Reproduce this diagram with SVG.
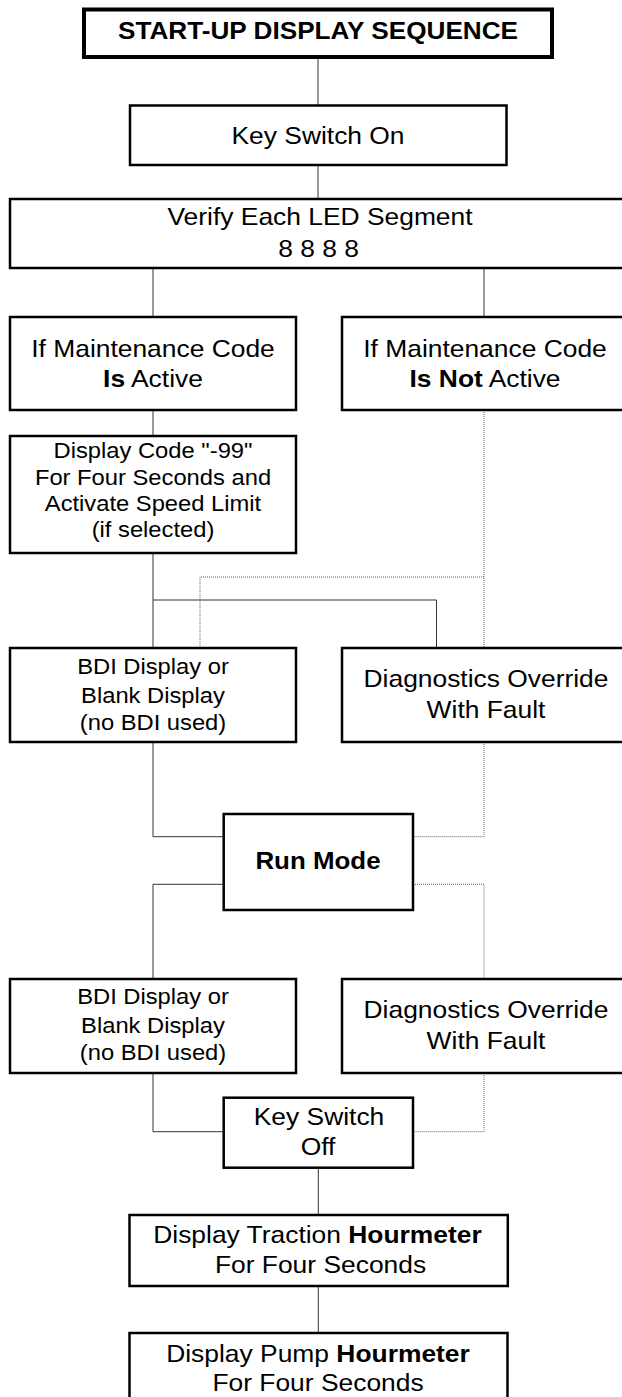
<svg xmlns="http://www.w3.org/2000/svg" width="622" height="1397" viewBox="0 0 622 1397">
<style>
  .box { fill: #fff; stroke: #000; stroke-width: 2.5; }
  .title { fill: #fff; stroke: #000; stroke-width: 4; }
  .t { font-family: "Liberation Sans", Arial, sans-serif; font-size: 24px; fill: #000; text-anchor: middle; }
  .s { font-size: 22px; }
  .b { font-weight: bold; }
  .solid { fill: none; stroke: #333; stroke-width: 1; }
  .dot { fill: none; stroke: #666; stroke-width: 1; stroke-dasharray: 1 1; }
</style>
<rect width="622" height="1397" fill="#fff"/>
<g id="connectors">
  <line class="solid" x1="318" y1="57.5" x2="318" y2="105.5"/>
  <line class="solid" x1="318" y1="165" x2="318" y2="199"/>
  <line class="solid" x1="153" y1="268" x2="153" y2="317"/>
  <line class="solid" x1="484" y1="268" x2="484" y2="317"/>
  <line class="solid" x1="153" y1="410" x2="153" y2="436"/>
  <polyline class="solid" points="153,553 153,648"/>
  <polyline class="solid" points="153,600 436.5,600 436.5,648"/>
  <polyline class="dot" points="484,410 484,648"/>
  <polyline class="dot" points="484,577 200,577 200,648"/>
  <polyline class="solid" points="153,742 153,836.7 223.7,836.7"/>
  <polyline class="dot" points="484,742 484,836.7 413,836.7"/>
  <polyline class="solid" points="223.7,884.3 153,884.3 153,979"/>
  <polyline class="dot" points="413,884.3 484,884.3 484,979"/>
  <polyline class="solid" points="153,1073 153,1131.7 223.7,1131.7"/>
  <polyline class="dot" points="484,1073 484,1131.7 413,1131.7"/>
  <line class="solid" x1="318.3" y1="1167.7" x2="318.3" y2="1215"/>
  <line class="solid" x1="318.3" y1="1286" x2="318.3" y2="1333"/>
</g>
<g id="title">
  <rect class="title" x="84" y="9.5" width="468" height="47.5"/>
  <text class="t b" transform="translate(318,39.3) scale(1.09,1)">START-UP DISPLAY SEQUENCE</text>
</g>
<g id="key-on">
  <rect class="box" x="130" y="105.5" width="376.5" height="59.5"/>
  <text class="t" transform="translate(318,143.5) scale(1.1,1)">Key Switch On</text>
</g>
<g id="verify">
  <rect class="box" x="10" y="199" width="620" height="69"/>
  <text class="t" transform="translate(320,225) scale(1.1,1)">Verify Each LED Segment</text>
  <text class="t" transform="translate(318.5,257) scale(1.1,1)">8 8 8 8</text>
</g>
<g id="maint-active">
  <rect class="box" x="10" y="317" width="286" height="93"/>
  <text class="t" transform="translate(153,357) scale(1.1,1)">If Maintenance Code</text>
  <text class="t" transform="translate(153,387) scale(1.1,1)"><tspan class="b">Is</tspan> Active</text>
</g>
<g id="maint-not-active">
  <rect class="box" x="342" y="317" width="288" height="93"/>
  <text class="t" transform="translate(485,357) scale(1.1,1)">If Maintenance Code</text>
  <text class="t" transform="translate(485,387) scale(1.1,1)"><tspan class="b">Is Not</tspan> Active</text>
</g>
<g id="display-code">
  <rect class="box" x="10" y="436" width="286" height="117"/>
  <text class="t s" transform="translate(153,458) scale(1.08,1)">Display Code "-99"</text>
  <text class="t s" transform="translate(153,484.5) scale(1.08,1)">For Four Seconds and</text>
  <text class="t s" transform="translate(153,511) scale(1.08,1)">Activate Speed Limit</text>
  <text class="t s" transform="translate(153,537) scale(1.08,1)">(if selected)</text>
</g>
<g id="bdi-1">
  <rect class="box" x="10" y="648" width="286" height="94"/>
  <text class="t s" transform="translate(153,674) scale(1.08,1)">BDI Display or</text>
  <text class="t s" transform="translate(153,703) scale(1.08,1)">Blank Display</text>
  <text class="t s" transform="translate(153,730) scale(1.08,1)">(no BDI used)</text>
</g>
<g id="diag-1">
  <rect class="box" x="342" y="648" width="288" height="94"/>
  <text class="t" transform="translate(486,687) scale(1.1,1)">Diagnostics Override</text>
  <text class="t" transform="translate(486,718) scale(1.1,1)">With Fault</text>
</g>
<g id="run-mode">
  <rect class="box" x="223.7" y="814" width="189.3" height="96"/>
  <text class="t b" transform="translate(318,869.3) scale(1.08,1)">Run Mode</text>
</g>
<g id="bdi-2">
  <rect class="box" x="10" y="979" width="286" height="94"/>
  <text class="t s" transform="translate(153,1004) scale(1.08,1)">BDI Display or</text>
  <text class="t s" transform="translate(153,1032.7) scale(1.08,1)">Blank Display</text>
  <text class="t s" transform="translate(153,1060) scale(1.08,1)">(no BDI used)</text>
</g>
<g id="diag-2">
  <rect class="box" x="342" y="979" width="288" height="94"/>
  <text class="t" transform="translate(486,1018) scale(1.1,1)">Diagnostics Override</text>
  <text class="t" transform="translate(486,1049) scale(1.1,1)">With Fault</text>
</g>
<g id="key-off">
  <rect class="box" x="223.7" y="1097.7" width="189.3" height="70"/>
  <text class="t" transform="translate(319,1125) scale(1.1,1)">Key Switch</text>
  <text class="t" transform="translate(318,1155) scale(1.1,1)">Off</text>
</g>
<g id="traction">
  <rect class="box" x="129.5" y="1215" width="378.3" height="71"/>
  <text class="t" transform="translate(317.5,1242.7) scale(1.1,1)">Display Traction <tspan class="b">Hourmeter</tspan></text>
  <text class="t" transform="translate(320.5,1273.3) scale(1.1,1)">For Four Seconds</text>
</g>
<g id="pump">
  <rect class="box" x="129.5" y="1333" width="378" height="72"/>
  <text class="t" transform="translate(318,1362) scale(1.1,1)">Display Pump <tspan class="b">Hourmeter</tspan></text>
  <text class="t" transform="translate(318,1391) scale(1.1,1)">For Four Seconds</text>
</g>
</svg>
